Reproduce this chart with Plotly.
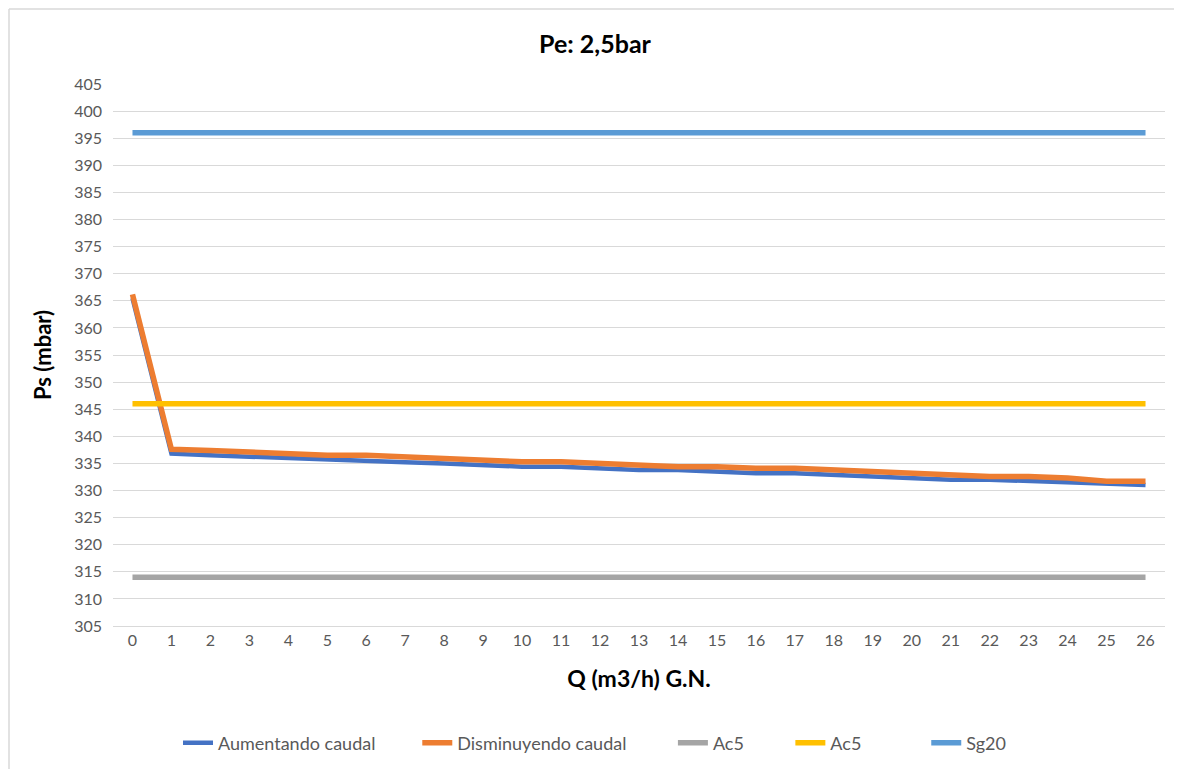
import plotly.graph_objects as go

q = list(range(27))
aumentando = [365.5, 336.8, 336.5, 336.2, 335.9, 335.6, 335.3, 335.2, 335.0, 334.7,
              334.4, 334.4, 334.1, 333.8, 333.8, 333.5, 333.2, 333.2, 332.9, 332.6,
              332.3, 332.0, 332.0, 331.7, 331.4, 331.2, 331.0]
disminuyendo = [366.2, 337.6, 337.4, 337.1, 336.8, 336.5, 336.5, 336.2, 335.9, 335.6,
                335.3, 335.3, 335.0, 334.7, 334.4, 334.4, 334.1, 334.1, 333.8, 333.5,
                333.2, 332.9, 332.6, 332.6, 332.3, 331.7, 331.7]
ac5_gray = [314] * 27
ac5_yellow = [346] * 27
sg20 = [396] * 27
y_ticks = list(range(305, 406, 5))

FONT = "Lato, Noto Sans, sans-serif"

W, H = 1174, 761
L, T, R, B = 105, 76, 17, 143
PW, PH = W - L - R, H - T - B

fig = go.Figure()
series = [
    ("Aumentando caudal", aumentando, "#4472C4", 4.5, 8),
    ("Disminuyendo caudal", disminuyendo, "#ED7D31", 5.5, 9),
    ("Ac5", ac5_gray, "#A5A5A5", 5.5, 9),
    ("Ac5", ac5_yellow, "#FFC000", 5.5, 13),
    ("Sg20", sg20, "#5B9BD5", 5.5, 2),
]
for name, vals, col, w, pad in series:
    fig.add_trace(go.Scatter(x=q, y=vals, mode="lines", name=name + "\u00a0" * pad,
                             line=dict(color=col, width=w)))

fig.update_layout(
    width=W, height=H,
    paper_bgcolor="white", plot_bgcolor="white",
    margin=dict(l=L, r=R, t=T, b=B, autoexpand=False),
    font=dict(family=FONT, color="#595959", size=16),
    title=dict(text="<b>Pe: 2,5bar</b>", x=0.5, xanchor="center", y=(H - 36) / H, yanchor="middle",
               font=dict(size=25, color="#000000", family=FONT)),
    showlegend=True,
    legend=dict(orientation="h", x=(170 - L) / PW, xanchor="left", y=-(735 - T - PH) / PH,
                yanchor="middle", font=dict(size=18, color="#595959"), tracegroupgap=0),
    xaxis=dict(type="linear", range=[-0.5, 26.5], tickmode="array", tickvals=q,
               ticktext=[str(v) for v in q], showgrid=False, zeroline=False,
               showline=True, linecolor="#d9d9d9", linewidth=1, ticks="",
               tickfont=dict(size=16),
               title=dict(text="<b>Q (m3/h) G.N.</b>", font=dict(size=23, color="#000000"), standoff=22)),
    yaxis=dict(range=[305, 405], tickmode="array", tickvals=y_ticks,
               showgrid=True, gridcolor="#d9d9d9", gridwidth=1, zeroline=False,
               showline=False, ticks="", ticklabelstandoff=10, tickfont=dict(size=16),
               title=dict(text="<b>Ps (mbar)</b>", font=dict(size=22, color="#000000"), standoff=16)),
)

# outer chart frame (left and top edges)
fx0 = (1 - L) / PW
fy0 = (T + PH - 1) / PH
fig.add_shape(type="line", xref="paper", yref="paper", x0=fx0, x1=fx0,
              y0=fy0, y1=-(B + 5) / PH, line=dict(color="#d9d9d9", width=1.5))
fig.add_shape(type="line", xref="paper", yref="paper", x0=fx0, x1=(1168 - L) / PW,
              y0=fy0, y1=fy0, line=dict(color="#d9d9d9", width=1.5))

fig.write_html("out.html")
